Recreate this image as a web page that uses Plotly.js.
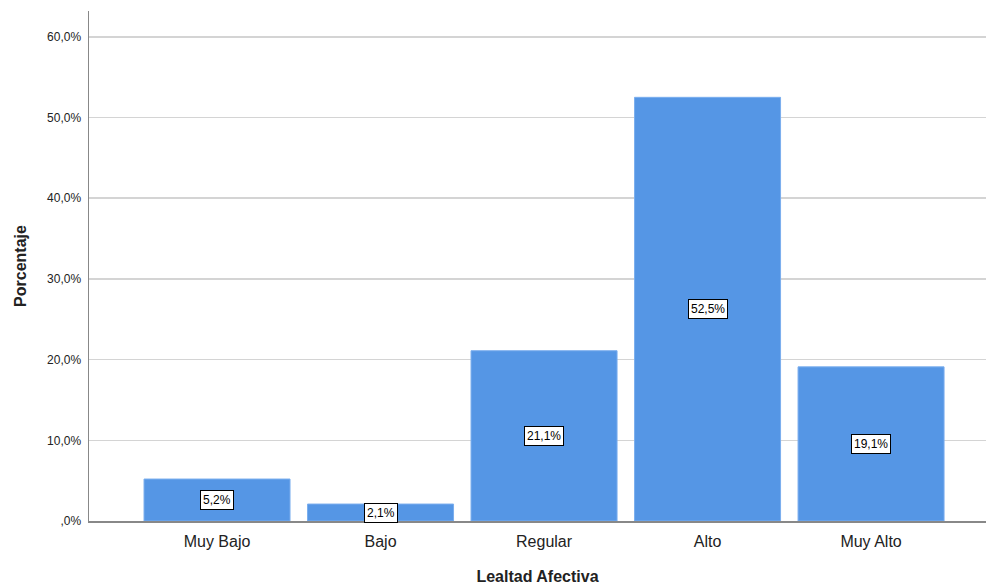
<!DOCTYPE html>
<html><head><meta charset="utf-8">
<script src="https://cdn.plot.ly/plotly-3.0.1.min.js"></script>
<style>html,body{margin:0;padding:0;background:#fff}</style>
</head><body>
<div id="chart" style="width:986px;height:586px"></div>
<script>
const categories = ["Muy Bajo", "Bajo", "Regular", "Alto", "Muy Alto"];
const percentages = [5.2, 2.1, 21.1, 52.5, 19.1];
const valueLabels = ["5,2%", "2,1%", "21,1%", "52,5%", "19,1%"];
const yTickVals = [0, 10, 20, 30, 40, 50, 60];
const yTickText = [",0%", "10,0%", "20,0%", "30,0%", "40,0%", "50,0%", "60,0%"];

const trace = {
  type: 'bar', x: categories, y: percentages,
  marker: {color: '#5596e5', line: {color: '#7aaeee', width: 1}},
  hoverinfo: 'none'
};
const annotations = categories.map((c, i) => ({
  x: c, y: percentages[i] / 2, xref: 'x', yref: 'y',
  text: valueLabels[i], showarrow: false,
  font: {family: 'Arial, Liberation Sans, sans-serif', size: 12, color: '#000'},
  bgcolor: '#fff', bordercolor: '#000', borderwidth: 1, borderpad: 2
}));
const layout = {
  width: 986, height: 586,
  margin: {l: 89, r: 0, t: 11, b: 65},
  paper_bgcolor: '#fff', plot_bgcolor: '#fff',
  bargap: 0.107,
  showlegend: false,
  xaxis: {
    range: [-0.783, 4.703], showline: true, linecolor: '#888', linewidth: 1.5,
    showgrid: false, ticks: '', zeroline: false, ticklabelstandoff: 5,
    tickfont: {family: 'Arial, Liberation Sans, sans-serif', size: 16, color: '#222'},
    title: {text: 'Lealtad Afectiva', standoff: 22,
      font: {family: 'Arial, Liberation Sans, sans-serif', size: 16, color: '#222', weight: 'bold'}}
  },
  yaxis: {
    range: [0, 63.2], showline: true, linecolor: '#888', linewidth: 1.5,
    showgrid: true, gridcolor: '#d4d4d4', gridwidth: 1.5, zeroline: false, ticks: '',
    tickvals: yTickVals, ticktext: yTickText, ticklabelstandoff: 4,
    tickfont: {family: 'Arial, Liberation Sans, sans-serif', size: 12, color: '#222'},
    title: {text: 'Porcentaje', standoff: 16,
      font: {family: 'Arial, Liberation Sans, sans-serif', size: 16, color: '#222', weight: 'bold'}}
  },
  annotations: annotations
};
Plotly.newPlot('chart', [trace], layout, {staticPlot: true, displayModeBar: false});
</script>
</body></html>
